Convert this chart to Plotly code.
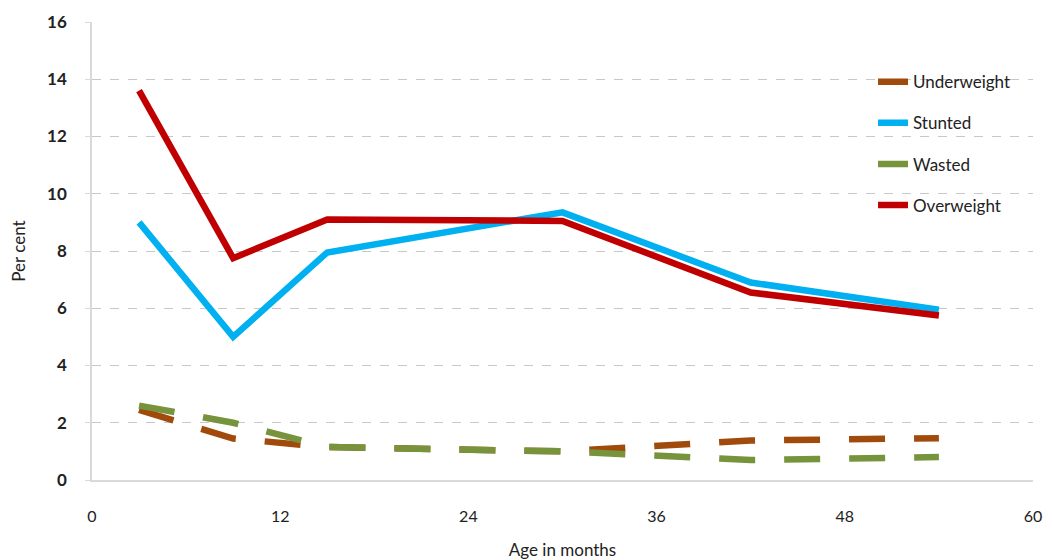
import plotly.graph_objects as go

# Age points (months) and prevalence (%)
age_a = [3, 9, 15, 30, 42, 54]
underweight = [2.45, 1.45, 1.15, 1.0, 1.38, 1.46]
stunted = [9.0, 5.0, 7.95, 9.35, 6.9, 5.95]
wasted = [2.6, 2.0, 1.15, 1.0, 0.7, 0.8]
overweight = [13.6, 7.75, 9.1, 9.05, 6.55, 5.75]

x_ticks = [0, 12, 24, 36, 48, 60]
y_ticks = [0, 2, 4, 6, 8, 10, 12, 14, 16]

font = "Lato, 'Open Sans', sans-serif"

fig = go.Figure()

series = [
    ("Underweight", underweight, "#A04B0C", "36px,29px"),
    ("Stunted", stunted, "#00B0F0", "solid"),
    ("Wasted", wasted, "#77933C", "36px,29px"),
    ("Overweight", overweight, "#C00000", "solid"),
]

for name, vals, col, dash in series:
    fig.add_trace(go.Scatter(
        x=age_a, y=vals, name=name, mode="lines",
        line=dict(color=col, width=6.5, dash=dash),
        legendgroup=name,
    ))

# page body has an 8px margin, so the figure is a bit smaller than the window
fig.update_layout(
    width=1045, height=552,
    margin=dict(l=84, r=20, t=14, b=80, autoexpand=False),
    plot_bgcolor="white", paper_bgcolor="white",
    font=dict(family=font, size=15, color="#222"),
    showlegend=True,
    legend=dict(
        x=0.83, y=0.908, xanchor="left", yanchor="top",
        bgcolor="rgba(0,0,0,0)", traceorder="grouped",
        tracegroupgap=16, font=dict(size=17, color="#222"),
    ),
)

fig.update_xaxes(
    range=[0, 60], tickvals=x_ticks, showgrid=False, zeroline=False,
    showline=True, linecolor="#D9D9D9", linewidth=1.5,
    ticks="", ticklabelstandoff=21, automargin=False,
    tickfont=dict(size=16),
    title=dict(text="Age in months", font=dict(size=17), standoff=20),
)
fig.update_yaxes(
    range=[0, 16], tickvals=y_ticks, showgrid=True, gridcolor="#C8C8C8",
    griddash="dash", gridwidth=1, zeroline=False,
    showline=True, linecolor="#D9D9D9", linewidth=1.5,
    ticks="outside", ticklen=5, tickcolor="#D9D9D9",
    ticklabelstandoff=15, automargin=False,
    tickfont=dict(size=17, weight="bold"),
    title=dict(text="Per cent", font=dict(size=17), standoff=17),
)

fig.write_html("out.html")
